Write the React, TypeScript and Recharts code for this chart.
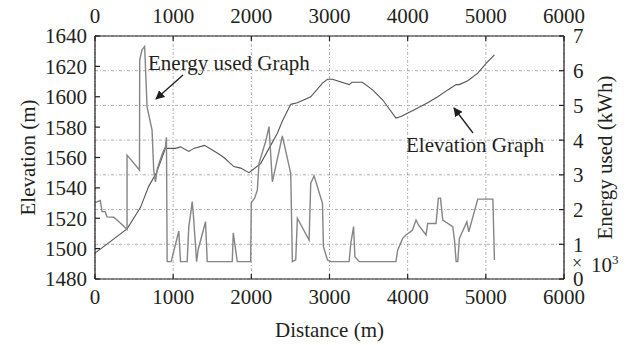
import React from "react";
import {
  ComposedChart,
  Line,
  XAxis,
  YAxis,
  CartesianGrid,
} from "recharts";

// Distance (m) / elevation (m) along the route
const elevDist = [0, 410, 581, 687, 786, 837, 901, 1030, 1094, 1200, 1264, 1401, 1564, 1649, 1714, 1777, 1863, 1970, 2119, 2226, 2333, 2397, 2504, 2589, 2760, 2910, 2974, 3038, 3251, 3290, 3420, 3551, 3679, 3850, 3914, 4085, 4256, 4385, 4513, 4620, 4660, 4769, 4897, 5004, 5110];
const elevValues = [1497, 1513, 1527, 1541, 1550, 1557, 1566, 1566, 1567, 1564, 1566, 1568, 1563, 1560, 1557, 1554, 1553, 1550, 1556, 1566, 1576, 1584, 1595, 1596, 1600, 1609, 1611.5, 1611.5, 1608, 1609.5, 1609.5, 1604.5, 1598, 1586, 1587, 1591.5, 1596, 1600, 1604.5, 1608, 1608, 1610.5, 1615.5, 1622, 1627.5];

// Distance (m) / energy used (kWh x 10^3)
const energyDist = [0, 68, 90, 130, 154, 239, 282, 410, 410, 569, 572, 602, 635, 666, 730, 751, 773, 800, 860, 901, 914, 923, 974, 1072, 1094, 1179, 1200, 1231, 1244, 1260, 1300, 1320, 1414, 1436, 1756, 1769, 1820, 1991, 2000, 2042, 2077, 2098, 2183, 2226, 2269, 2397, 2504, 2525, 2568, 2589, 2739, 2760, 2803, 2910, 2922, 2974, 3017, 3251, 3273, 3308, 3325, 3380, 3850, 3872, 3936, 3978, 4060, 4107, 4140, 4235, 4256, 4363, 4393, 4420, 4449, 4577, 4600, 4620, 4641, 4662, 4757, 4782, 4897, 5090, 5110];
const energyValues = [2.2, 2.26, 1.94, 1.94, 1.79, 1.78, 1.7, 1.43, 3.57, 3.14, 6.31, 6.6, 6.7, 4.96, 4.29, 3.14, 2.8, 3.2, 3.6, 3.81, 4.08, 0.5, 0.5, 1.38, 0.5, 0.5, 1.5, 2.0, 2.23, 1.8, 0.5, 0.85, 1.65, 0.5, 0.5, 1.33, 0.5, 0.5, 2.2, 2.33, 2.56, 3.33, 3.96, 4.39, 2.8, 4.12, 3.04, 0.5, 0.55, 1.75, 1.12, 2.76, 2.97, 2.18, 0.93, 0.55, 0.5, 0.5, 1.03, 1.51, 0.64, 0.5, 0.5, 0.83, 1.17, 1.27, 1.4, 1.7, 1.55, 1.27, 1.6, 1.6, 2.33, 2.33, 1.7, 1.51, 1.1, 0.5, 0.5, 1.17, 1.65, 1.36, 2.3, 2.3, 0.55];

const distTicks = [0, 1000, 2000, 3000, 4000, 5000, 6000];
const elevTicks = [1480, 1500, 1520, 1540, 1560, 1580, 1600, 1620, 1640];
const energyTicks = [0, 1, 2, 3, 4, 5, 6, 7];

const elevData = elevDist.map((d, i) => ({ d, elev: elevValues[i] }));
const energyData = energyDist.map((d, i) => ({ d, energy: energyValues[i] }));

const FONT = "'Liberation Serif', 'Times New Roman', serif";
const INK = "#231f20";
const TICK = { fontSize: 21, fontFamily: FONT, fill: INK } as const;
const AXIS = { stroke: INK, strokeWidth: 1.2 } as const;
const TITLE = { fontSize: 21, fontFamily: FONT, fill: INK } as const;

export default function App() {
  return (
    <div style={{ position: "absolute", left: 0, top: 0, width: 628, height: 345, background: "#fff" }}>
      <ComposedChart width={628} height={345} margin={{ top: 0, right: 0, bottom: 0, left: 0 }}>
        <CartesianGrid
          xAxisId="bottom"
          yAxisId="right"
          stroke="#9a9a9a"
          strokeWidth={0.8}
          strokeDasharray="3 2 1 2"
        />
        <XAxis
          xAxisId="bottom"
          dataKey="d"
          type="number"
          domain={[0, 6000]}
          ticks={distTicks}
          orientation="bottom"
          height={66}
          tick={TICK}
          tickSize={-5}
          tickMargin={15}
          tickLine={AXIS}
          axisLine={AXIS}
          label={{ value: "Distance (m)", position: "insideBottom", offset: 8, style: TITLE }}
        />
        <XAxis
          xAxisId="top"
          dataKey="d"
          type="number"
          domain={[0, 6000]}
          ticks={distTicks}
          orientation="top"
          height={36}
          tick={TICK}
          tickSize={-5}
          tickMargin={18}
          tickLine={AXIS}
          axisLine={AXIS}
        />
        <YAxis
          yAxisId="left"
          type="number"
          domain={[1480, 1640]}
          ticks={elevTicks}
          width={95}
          tick={TICK}
          tickSize={-5}
          tickMargin={13}
          tickLine={AXIS}
          axisLine={AXIS}
          label={{ value: "Elevation (m)", angle: -90, position: "insideLeft", offset: 28, style: { ...TITLE, textAnchor: "middle" } }}
        />
        <YAxis
          yAxisId="right"
          orientation="right"
          type="number"
          domain={[0, 7]}
          ticks={energyTicks}
          width={64}
          tick={TICK}
          tickSize={-5}
          tickMargin={14}
          tickLine={AXIS}
          axisLine={AXIS}
          label={{ value: "Energy used (kWh)", angle: -90, position: "insideRight", offset: 23, style: { ...TITLE, textAnchor: "middle" } }}
        />
        {/* invisible series so the top distance axis is drawn */}
        <Line
          xAxisId="top"
          yAxisId="left"
          data={elevData}
          dataKey="elev"
          stroke="none"
          dot={false}
          activeDot={false}
          legendType="none"
          isAnimationActive={false}
        />
        <Line
          xAxisId="bottom"
          yAxisId="left"
          data={elevData}
          dataKey="elev"
          type="linear"
          stroke="#555555"
          strokeWidth={1.1}
          dot={false}
          isAnimationActive={false}
        />
        <Line
          xAxisId="bottom"
          yAxisId="right"
          data={energyData}
          dataKey="energy"
          type="linear"
          stroke="#858585"
          strokeWidth={1.4}
          dot={false}
          isAnimationActive={false}
        />
      </ComposedChart>
      {/* annotations drawn over the plot */}
      <svg width={628} height={345} style={{ position: "absolute", left: 0, top: 0, pointerEvents: "none" }}>
        <defs>
          <marker id="head" viewBox="0 0 10 10" refX="9" refY="5" markerWidth="7" markerHeight="7" orient="auto-start-reverse">
            <path d="M0,0 L10,5 L0,10 z" fill={INK} />
          </marker>
        </defs>
        <text x={148} y={69.5} fontSize={21} fontFamily={FONT} fill={INK}>Energy used Graph</text>
        <line x1={183} y1={75} x2={156} y2={99} stroke={INK} strokeWidth={1.3} markerEnd="url(#head)" />
        <text x={406} y={152} fontSize={21} fontFamily={FONT} fill={INK}>Elevation Graph</text>
        <line x1={473} y1={133} x2={454} y2={108} stroke={INK} strokeWidth={1.3} markerEnd="url(#head)" />
        <text x={572} y={269} fontSize={18} fontFamily={FONT} fill={INK}>×</text>
        <text x={591} y={272} fontSize={21} fontFamily={FONT} fill={INK}>10<tspan dy={-8} fontSize={13}>3</tspan></text>
      </svg>
    </div>
  );
}
